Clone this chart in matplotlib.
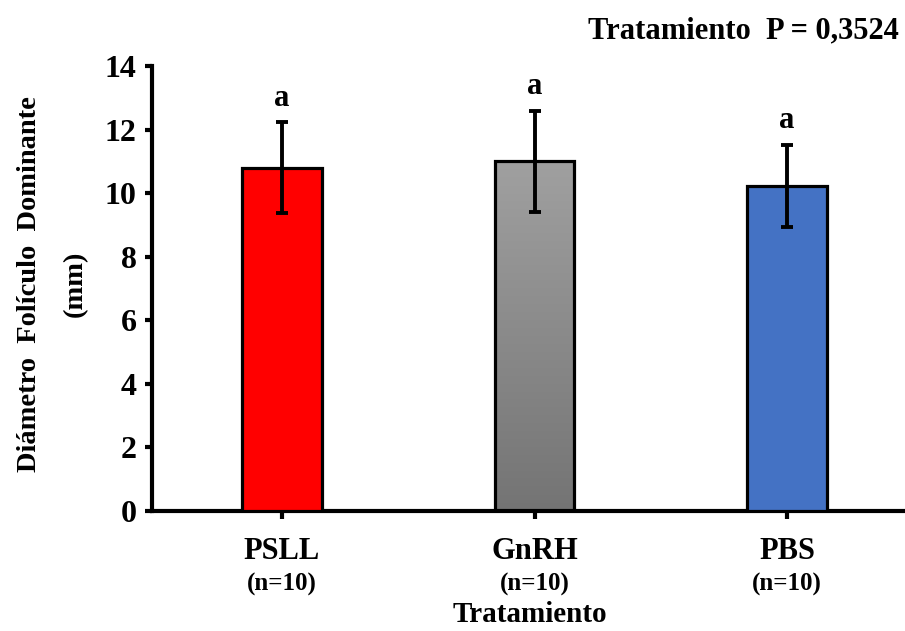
import numpy as np
import matplotlib
matplotlib.use("Agg")
import matplotlib.pyplot as plt
from matplotlib.colors import LinearSegmentedColormap

plt.rcParams['font.family'] = ['Liberation Serif', 'DejaVu Serif']
plt.rcParams['font.weight'] = 'bold'

# data
grupos = ['PSLL', 'GnRH', 'PBS']
n_grupo = ['(n=10)', '(n=10)', '(n=10)']
medias = [10.8, 11.0, 10.22]
errores = [1.43, 1.6, 1.3]
letras = ['a', 'a', 'a']
colores = ['#ff0000', None, '#4472c4']  # GnRH drawn with a gray gradient
titulo = 'Tratamiento  P = 0,3524'

fig = plt.figure(figsize=(9.05, 6.31), dpi=100)
ax = fig.add_axes([152/905, 1 - 511/631, 1 - 152/905, (511 - 66)/631])

x = np.arange(len(grupos))
bars = ax.bar(x, medias, width=0.315, color=[c if c else 'none' for c in colores],
              edgecolor='black', linewidth=2.3, zorder=3)

# gradient fill for the gray bar
gris = LinearSegmentedColormap.from_list('gris', ['#a0a0a0', '#747474'])
b = bars[1]
grad = np.linspace(0, 1, 256).reshape(-1, 1)
im = ax.imshow(grad, cmap=gris, aspect='auto', origin='upper',
               extent=[b.get_x(), b.get_x() + b.get_width(), 0, b.get_height()], zorder=2)
im.set_clip_path(b)

ax.errorbar(x, medias, yerr=errores, fmt='none', ecolor='black', elinewidth=2.8,
            capsize=4.5, capthick=2.8, zorder=4)

for i in range(len(grupos)):
    ax.text(x[i], medias[i] + errores[i] + 0.3, letras[i], ha='center', va='bottom',
            fontsize=22, fontweight='bold')

ax.set_xlim(-0.515, 2.467)
ax.set_ylim(0, 14)
ax.set_yticks(np.arange(0, 15, 2))
ax.set_xticks(x)
ax.set_xticklabels(grupos, fontsize=22, fontweight='bold')
ax.tick_params(axis='x', direction='out', length=6, width=3, pad=13)
ax.tick_params(axis='y', direction='out', length=5, width=3, labelsize=23, pad=6)
for lbl in ax.get_yticklabels():
    lbl.set_fontweight('bold')

for i in range(len(grupos)):
    ax.text(x[i], -2.3, n_grupo[i], ha='center', va='center', fontsize=18,
            fontweight='bold')

ax.spines['top'].set_visible(False)
ax.spines['right'].set_visible(False)
ax.spines['left'].set_linewidth(3)
ax.spines['bottom'].set_linewidth(3)

fig.text(530/905, 1 - 614/631, 'Tratamiento', ha='center', va='center', fontsize=21,
         fontweight='bold')
fig.text(30/905, 1 - 284/631, 'Diámetro  Folículo  Dominante', rotation=90,
         ha='center', va='center', fontsize=20.5, fontweight='bold')
fig.text(75/905, 1 - 284/631, '(mm)', rotation=90, ha='center', va='center',
         fontsize=20.5, fontweight='bold')
fig.text(899/905, 1 - 31/631, titulo, ha='right', va='center', fontsize=22,
         fontweight='bold')

fig.savefig('out.png', dpi=100)
